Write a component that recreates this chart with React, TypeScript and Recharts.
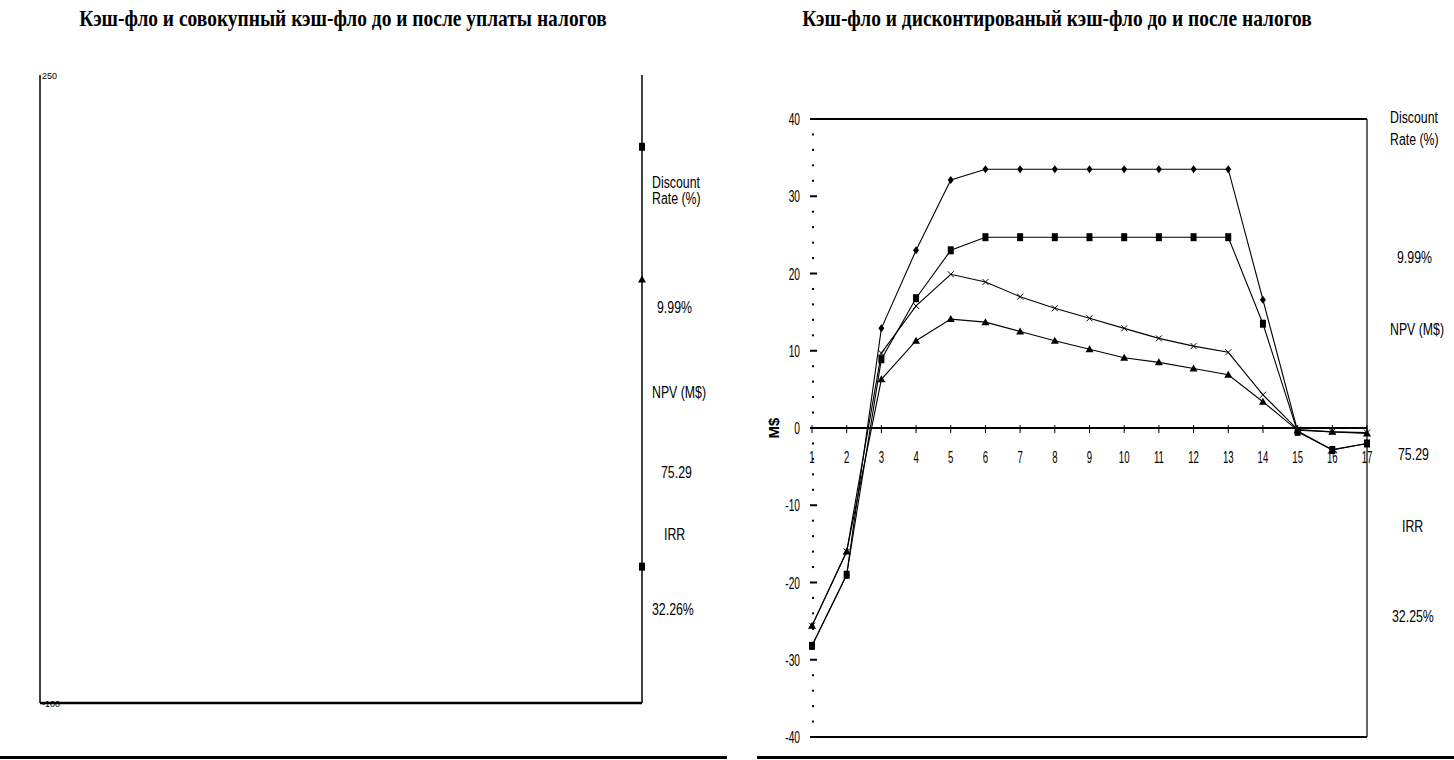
import React from "react";
import { LineChart, Line, XAxis, YAxis, ReferenceLine } from "recharts";

// years on the x axis
const years = [1, 2, 3, 4, 5, 6, 7, 8, 9, 10, 11, 12, 13, 14, 15, 16, 17];

// right chart: cash flow and discounted cash flow, M$
const cashBefore = [-28.2, -19, 12.9, 23, 32.1, 33.5, 33.5, 33.5, 33.5, 33.5, 33.5, 33.5, 33.5, 16.6, -0.4, -2.8, -2];
const cashAfter = [-28.2, -19, 8.9, 16.8, 23, 24.7, 24.7, 24.7, 24.7, 24.7, 24.7, 24.7, 24.7, 13.5, -0.5, -2.85, -2];
const discBefore = [-25.6, -16, 9.7, 15.8, 19.9, 18.9, 17, 15.5, 14.2, 12.9, 11.6, 10.6, 9.8, 4.3, -0.2, -0.5, -0.6];
const discAfter = [-25.6, -16, 6.3, 11.3, 14.1, 13.7, 12.5, 11.3, 10.2, 9.1, 8.5, 7.7, 6.9, 3.4, -0.3, -0.5, -0.7];

// left chart: only the end points are visible
const cumBefore = [null, null, null, null, null, null, null, null, null, null, null, null, null, null, null, null, 210];
const cumAfter = [null, null, null, null, null, null, null, null, null, null, null, null, null, null, null, null, 136];
const cumDisc = [null, null, null, null, null, null, null, null, null, null, null, null, null, null, null, null, -24];

const rightMajor = [-40, -30, -20, -10, 0, 10, 20, 30, 40];
const leftTicks = [-100, 250];

const sideLabels = ["Discount", "Rate (%)", "9.99%", "NPV (M$)", "75.29", "IRR"];
const irrLeft = "32.26%";
const irrRight = "32.25%";

const titleLeft = "Кэш-фло и совокупный кэш-фло до и после уплаты налогов";
const titleRight = "Кэш-фло и дисконтированый кэш-фло до и после налогов";

const rightData = years.map((year, i) => ({
  year,
  cashBefore: cashBefore[i],
  cashAfter: cashAfter[i],
  discBefore: discBefore[i],
  discAfter: discAfter[i],
}));

const leftData = years.map((year, i) => ({
  year,
  cumBefore: cumBefore[i],
  cumAfter: cumAfter[i],
  cumDisc: cumDisc[i],
}));

const minorTicks: number[] = [];
for (let v = -40; v <= 40; v += 2) minorTicks.push(v);

const NARROW = "'Liberation Sans', Arial, sans-serif";

// right chart layout
const R_TOP = 19;
const R_PLOT_H = 618;
const ZERO_Y = R_TOP + (R_PLOT_H * 40) / 80;

const Diamond = (p: any) =>
  p.cx == null || p.cy == null ? (
    <g key={p.index} />
  ) : (
    <polygon
      key={p.index}
      points={`${p.cx},${p.cy - 4} ${p.cx + 3},${p.cy} ${p.cx},${p.cy + 4} ${p.cx - 3},${p.cy}`}
      fill="#000"
    />
  );

const Square = (p: any) =>
  p.cx == null || p.cy == null ? (
    <g key={p.index} />
  ) : (
    <rect key={p.index} x={p.cx - 3} y={p.cy - 4} width={6} height={8} fill="#000" />
  );

const Cross = (p: any) =>
  p.cx == null || p.cy == null ? (
    <g key={p.index} />
  ) : (
    <g key={p.index} stroke="#000" strokeWidth={1}>
      <line x1={p.cx - 3} y1={p.cy - 3} x2={p.cx + 3} y2={p.cy + 3} />
      <line x1={p.cx - 3} y1={p.cy + 3} x2={p.cx + 3} y2={p.cy - 3} />
    </g>
  );

const Triangle = (p: any) =>
  p.cx == null || p.cy == null ? (
    <g key={p.index} />
  ) : (
    <polygon
      key={p.index}
      points={`${p.cx},${p.cy - 4} ${p.cx + 4},${p.cy + 3} ${p.cx - 4},${p.cy + 3}`}
      fill="#000"
    />
  );

const XTick = (props: any) => {
  const { x, payload } = props;
  return (
    <g>
      <line x1={x} x2={x} y1={ZERO_Y - 3} y2={ZERO_Y + 5} stroke="#000" strokeWidth={1} />
      <text
        transform={`translate(${x},${ZERO_Y + 35}) scale(0.6,1)`}
        textAnchor="middle"
        fontFamily={NARROW}
        fontSize={16}
        fill="#000"
      >
        {payload.value}
      </text>
    </g>
  );
};

const YTick = (props: any) => {
  const { x, y, payload } = props;
  const v = payload.value;
  if (rightMajor.includes(v)) {
    return (
      <g>
        <line x1={x - 2} x2={x + 5} y1={y} y2={y} stroke="#000" strokeWidth={2} />
        <text
          transform={`translate(${x - 12},${y + 6}) scale(0.6,1)`}
          textAnchor="end"
          fontFamily={NARROW}
          fontSize={17}
          fill="#000"
        >
          {v}
        </text>
      </g>
    );
  }
  return <rect x={x} y={y - 1} width={2} height={2} fill="#000" />;
};

const LeftYTick = (props: any) => {
  const { x, y, payload } = props;
  return (
    <text x={x + 2} y={y + 4} fontFamily={NARROW} fontSize={9} fill="#000">
      {payload.value}
    </text>
  );
};

const labelStyle = (left: number, top: number): React.CSSProperties => ({
  position: "absolute",
  left,
  top,
  fontFamily: NARROW,
  fontSize: 16,
  lineHeight: "16px",
  whiteSpace: "nowrap",
  transform: "scaleX(0.77)",
  transformOrigin: "left top",
});

const titleStyle = (center: number): React.CSSProperties => ({
  position: "absolute",
  left: center - 400,
  width: 800,
  top: 4,
  textAlign: "center",
  fontFamily: "'Liberation Serif', 'Times New Roman', serif",
  fontWeight: "bold",
  fontSize: 24,
  lineHeight: "28px",
  transform: "scaleX(0.81)",
  transformOrigin: "center top",
});

export default function App() {
  const leftY = [175, 191, 300, 385, 465, 527, 602];
  const rightY = [110, 132, 250, 322, 447, 519, 609];
  return (
    <div
      style={{
        position: "absolute",
        left: 0,
        top: 0,
        width: 1454,
        height: 760,
        background: "#fff",
        overflow: "hidden",
      }}
    >
      <div style={titleStyle(343)}>{titleLeft}</div>
      <div style={titleStyle(1057)}>{titleRight}</div>

      {/* left chart */}
      <div style={{ position: "absolute", left: 0, top: 60 }}>
        <LineChart width={680} height={653} data={leftData} margin={{ top: 15, right: 38, bottom: 0, left: 0 }}>
          <XAxis
            dataKey="year"
            type="number"
            domain={[1, 17]}
            ticks={years}
            height={10}
            axisLine={{ stroke: "#000", strokeWidth: 2.5 }}
            tickLine={false}
            tick={false}
          />
          <YAxis
            type="number"
            domain={[-100, 250]}
            ticks={leftTicks}
            width={40}
            axisLine={{ stroke: "#000", strokeWidth: 1.5 }}
            tickLine={false}
            tickSize={0}
            tickMargin={0}
            tick={<LeftYTick />}
            interval={0}
          />
          <ReferenceLine x={17} stroke="#000" strokeWidth={1.5} />
          <Line dataKey="cumBefore" stroke="#000" dot={Square} isAnimationActive={false} />
          <Line dataKey="cumAfter" stroke="#000" dot={Triangle} isAnimationActive={false} />
          <Line dataKey="cumDisc" stroke="#000" dot={Square} isAnimationActive={false} />
        </LineChart>
      </div>

      {/* right chart */}
      <div style={{ position: "absolute", left: 740, top: 100 }}>
        <LineChart width={640} height={657} data={rightData} margin={{ top: R_TOP, right: 13, bottom: 0, left: 0 }}>
          <XAxis
            dataKey="year"
            type="number"
            domain={[1, 17]}
            ticks={years}
            interval={0}
            height={20}
            axisLine={{ stroke: "#000", strokeWidth: 2 }}
            tickLine={false}
            tickSize={0}
            tickMargin={0}
            tick={<XTick />}
          />
          <YAxis
            type="number"
            domain={[-40, 40]}
            ticks={minorTicks}
            interval={0}
            width={72}
            axisLine={false}
            tickLine={false}
            tickSize={0}
            tickMargin={0}
            tick={<YTick />}
          />
          <ReferenceLine y={40} stroke="#000" strokeWidth={2} />
          <ReferenceLine y={0} stroke="#000" strokeWidth={2} />
          <ReferenceLine x={17} stroke="#000" strokeWidth={1.2} />
          <Line dataKey="cashBefore" stroke="#000" strokeWidth={1.1} dot={Diamond} isAnimationActive={false} />
          <Line dataKey="cashAfter" stroke="#000" strokeWidth={1.1} dot={Square} isAnimationActive={false} />
          <Line dataKey="discBefore" stroke="#000" strokeWidth={1.1} dot={Cross} isAnimationActive={false} />
          <Line dataKey="discAfter" stroke="#000" strokeWidth={1.1} dot={Triangle} isAnimationActive={false} />
        </LineChart>
        <div
          style={{
            position: "absolute",
            left: 33,
            top: 328,
            transform: "translate(-50%,-50%) rotate(-90deg)",
            fontFamily: NARROW,
            fontWeight: "bold",
            fontSize: 15,
            whiteSpace: "nowrap",
          }}
        >
          M$
        </div>
      </div>

      {/* side labels */}
      {sideLabels.map((t, i) => (
        <div key={"l" + i} style={labelStyle(i === 2 ? 657 : i === 4 ? 661 : i === 5 ? 664 : 652, leftY[i])}>
          {t}
        </div>
      ))}
      <div style={labelStyle(652, leftY[6])}>{irrLeft}</div>
      {sideLabels.map((t, i) => (
        <div key={"r" + i} style={labelStyle(i === 2 ? 1397 : i === 4 ? 1398 : i === 5 ? 1402 : 1390, rightY[i])}>
          {t}
        </div>
      ))}
      <div style={labelStyle(1392, rightY[6])}>{irrRight}</div>

      <div style={{ position: "absolute", left: 0, top: 756, width: 727, height: 3, background: "#000" }} />
      <div style={{ position: "absolute", left: 757, top: 756, width: 697, height: 3, background: "#000" }} />
    </div>
  );
}
